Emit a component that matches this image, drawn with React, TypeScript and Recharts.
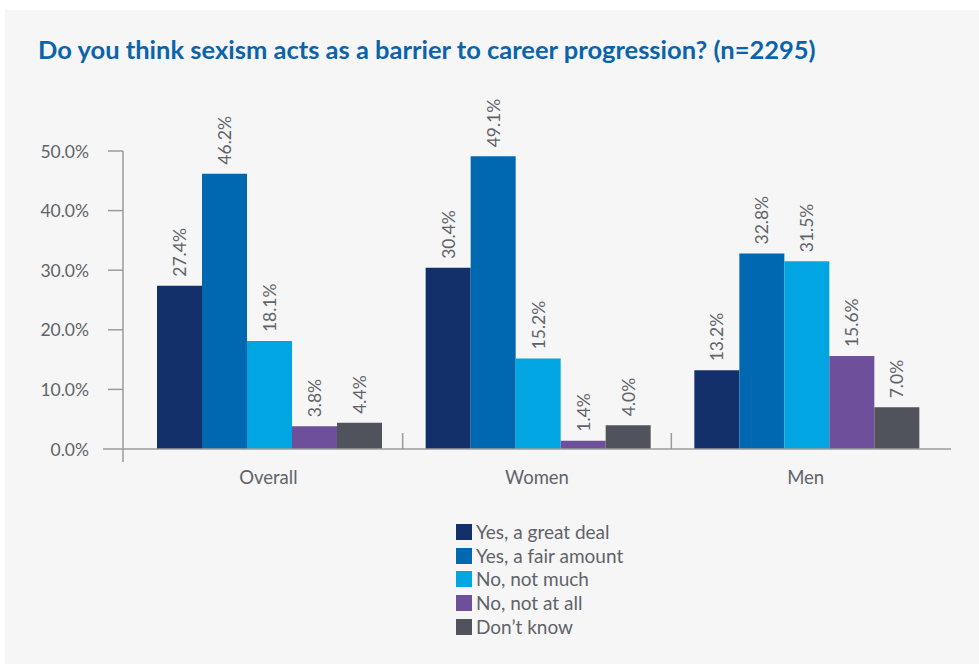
import React from 'react';
import { BarChart, Bar, XAxis, YAxis, Legend, LabelList } from 'recharts';

const categories = ['Overall', 'Women', 'Men'];
const seriesNames = ['Yes, a great deal', 'Yes, a fair amount', 'No, not much', 'No, not at all', 'Don\u2019t know'];
const seriesKeys = ['greatDeal', 'fairAmount', 'notMuch', 'notAtAll', 'dontKnow'];
const greatDeal = [27.4, 30.4, 13.2];
const fairAmount = [46.2, 49.1, 32.8];
const notMuch = [18.1, 15.2, 31.5];
const notAtAll = [3.8, 1.4, 15.6];
const dontKnow = [4.4, 4.0, 7.0];
const yTicks = [0, 10, 20, 30, 40, 50];
const colors = ['#13306a', '#0068b1', '#00a5e1', '#6d4f9b', '#50535b'];

const seriesValues = [greatDeal, fairAmount, notMuch, notAtAll, dontKnow];
const data = categories.map((c, i) => {
  const row: any = { category: c };
  seriesKeys.forEach((k, s) => {
    row[k] = seriesValues[s][i];
  });
  return row;
});

const FONT = 'Lato, "Open Sans", sans-serif';
const TEXT = '#5f636a';
const AXIS = '#9b9b9b';

const YTick = (props: any) => {
  const { x, y, payload } = props;
  const ax = x + 34;
  const isZero = payload.value === 0;
  return (
    <g>
      <line x1={isZero ? ax - 20 : ax - 15} y1={y} x2={ax} y2={y} stroke={AXIS} strokeWidth={1.5} />
      {isZero && <line x1={ax} y1={y} x2={ax} y2={y + 13} stroke={AXIS} strokeWidth={1.5} />}
      <text x={x} y={y} textAnchor="end" dominantBaseline="central" fill={TEXT} fontSize={17.5} fontFamily={FONT}>
        {payload.value.toFixed(1) + '%'}
      </text>
    </g>
  );
};

const XTick = (props: any) => {
  const { x, y, payload } = props;
  const off = payload.offset ?? 0;
  return (
    <g>
      {payload.index > 0 && (
        <line x1={x - off} y1={y - 16} x2={x - off} y2={y} stroke={AXIS} strokeWidth={1.5} />
      )}
      <text x={x} y={y + 28} textAnchor="middle" dominantBaseline="central" fill={TEXT} fontSize={18.5} fontFamily={FONT}>
        {payload.value}
      </text>
    </g>
  );
};

const ValueLabel = (props: any) => {
  const { x, y, width, value } = props;
  const cx = x + width / 2;
  const ty = y - 9;
  return (
    <text
      x={cx}
      y={ty}
      transform={`rotate(-90, ${cx}, ${ty})`}
      textAnchor="start"
      dominantBaseline="central"
      fill={TEXT}
      fontSize={17.5}
      fontFamily={FONT}
    >
      {Number(value).toFixed(1) + '%'}
    </text>
  );
};

const LegendContent = () => (
  <div style={{ fontFamily: FONT }}>
    {seriesNames.map((n, i) => (
      <div key={n} style={{ display: 'flex', alignItems: 'center', height: 23.7 }}>
        <div style={{ width: 16, height: 16, background: colors[i], marginRight: 4 }} />
        <span style={{ fontSize: 19, color: TEXT, lineHeight: '23.7px' }}>{n}</span>
      </div>
    ))}
  </div>
);

export default function App() {
  return (
    <div style={{ position: 'absolute', left: 0, top: 0, width: 979, height: 664, background: '#ffffff', overflow: 'hidden' }}>
      <div style={{ position: 'absolute', left: 5, top: 10, right: 0, bottom: 0, background: '#f6f6f6' }} />
      <div
        style={{
          position: 'absolute',
          left: 38,
          top: 35,
          fontFamily: FONT,
          fontWeight: 700,
          fontSize: 25.5,
          lineHeight: '28px',
          color: '#0a63ab',
          whiteSpace: 'nowrap',
        }}
      >
        Do you think sexism acts as a barrier to career progression? (n=2295)
      </div>
      <div style={{ position: 'absolute', left: 0, top: 0 }}>
        <BarChart
          width={979}
          height={664}
          data={data}
          margin={{ top: 151, right: 28, bottom: 175, left: 0 }}
          barCategoryGap={23}
          barGap={0}
        >
          <XAxis
            dataKey="category"
            padding={{ left: 11, right: 11 }}
            axisLine={{ stroke: AXIS, strokeWidth: 1.5 }}
            tickLine={false}
            tickSize={0}
            tickMargin={0}
            tick={<XTick />}
            height={40}
            interval={0}
          />
          <YAxis
            width={123}
            domain={[0, 50]}
            ticks={yTicks}
            axisLine={{ stroke: AXIS, strokeWidth: 1.5 }}
            tickLine={false}
            tickSize={15}
            tickMargin={19}
            tick={<YTick />}
            allowDataOverflow
          />
          <Legend
            layout="vertical"
            align="center"
            verticalAlign="middle"
            content={<LegendContent />}
            wrapperStyle={{ left: 456, top: 520, width: 'auto', height: 'auto' }}
          />
          {seriesKeys.map((k, i) => (
            <Bar key={k} dataKey={k} name={seriesNames[i]} fill={colors[i]} isAnimationActive={false}>
              <LabelList dataKey={k} content={<ValueLabel />} />
            </Bar>
          ))}
        </BarChart>
      </div>
    </div>
  );
}
